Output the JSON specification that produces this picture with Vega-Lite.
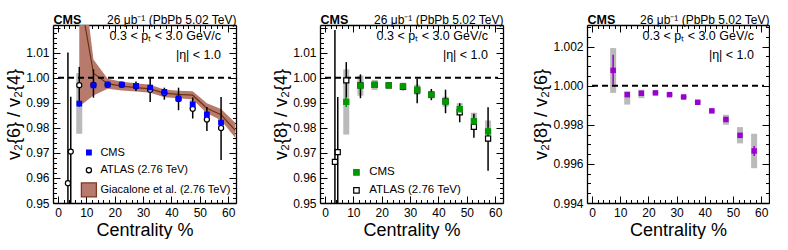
{
  "$schema": "https://vega.github.io/schema/vega-lite/v6.json",
  "padding": {"left": 5, "top": 13, "right": 0, "bottom": 0},
  "config": {
    "font": "Liberation Sans",
    "view": {"stroke": null},
    "axis": {"grid": false, "domainColor": "black", "tickColor": "black", "labelColor": "black", "titleColor": "black", "labelFont": "Liberation Sans", "titleFont": "Liberation Sans", "titleFontWeight": "normal", "labelFontSize": 12, "domainWidth": 1.3, "tickWidth": 1, "labelFlush": false},
    "title": {"anchor": "end", "frame": "group", "offset": -48, "dx": -15, "fontSize": 12.5, "fontWeight": "normal", "subtitleFontSize": 12.5, "subtitlePadding": 6, "color": "black", "subtitleColor": "black", "font": "Liberation Sans", "subtitleFont": "Liberation Sans"}
  },
  "datasets": {
    "p1": [
      {"series": "ATLAS (2.76 TeV)", "cent": 3.5, "val": 0.9579, "lo": 0.906, "hi": 1.0100},
      {"series": "ATLAS (2.76 TeV)", "cent": 4.5, "val": 0.9705, "lo": 0.9486, "hi": 0.9924},
      {"series": "ATLAS (2.76 TeV)", "cent": 7.5, "val": 0.9970, "lo": 0.9905, "hi": 1.0043},
      {"series": "ATLAS (2.76 TeV)", "cent": 12.5, "val": 0.9971, "lo": 0.9920, "hi": 1.0033},
      {"series": "ATLAS (2.76 TeV)", "cent": 17.5, "val": 0.9972, "lo": 0.9962, "hi": 0.9982},
      {"series": "ATLAS (2.76 TeV)", "cent": 22.5, "val": 0.9972, "lo": 0.9964, "hi": 0.9980},
      {"series": "ATLAS (2.76 TeV)", "cent": 27.5, "val": 0.9966, "lo": 0.9947, "hi": 0.9985},
      {"series": "ATLAS (2.76 TeV)", "cent": 32.5, "val": 0.9952, "lo": 0.9903, "hi": 0.9999},
      {"series": "ATLAS (2.76 TeV)", "cent": 37.5, "val": 0.9939, "lo": 0.9912, "hi": 0.9960},
      {"series": "ATLAS (2.76 TeV)", "cent": 42.5, "val": 0.9915, "lo": 0.9870, "hi": 0.9960},
      {"series": "ATLAS (2.76 TeV)", "cent": 47.5, "val": 0.9876, "lo": 0.9837, "hi": 0.9921},
      {"series": "ATLAS (2.76 TeV)", "cent": 52.5, "val": 0.9833, "lo": 0.9787, "hi": 0.9883},
      {"series": "ATLAS (2.76 TeV)", "cent": 57.5, "val": 0.9799, "lo": 0.9672, "hi": 0.9923},
      {"series": "CMS", "cent": 7.5, "val": 0.9896, "lo": 0.9884, "hi": 0.9908, "slo": 0.9776, "shi": 1.0018},
      {"series": "CMS", "cent": 12.5, "val": 0.9969, "lo": 0.9961, "hi": 0.9977, "slo": 0.9944, "shi": 0.9994},
      {"series": "CMS", "cent": 17.5, "val": 0.9972, "lo": 0.9967, "hi": 0.9977, "slo": 0.9962, "shi": 0.9982},
      {"series": "CMS", "cent": 22.5, "val": 0.9972, "lo": 0.9968, "hi": 0.9976, "slo": 0.9964, "shi": 0.9980},
      {"series": "CMS", "cent": 27.5, "val": 0.9967, "lo": 0.9962, "hi": 0.9972, "slo": 0.9957, "shi": 0.9977},
      {"series": "CMS", "cent": 32.5, "val": 0.9960, "lo": 0.9954, "hi": 0.9966, "slo": 0.9948, "shi": 0.9972},
      {"series": "CMS", "cent": 37.5, "val": 0.9943, "lo": 0.9937, "hi": 0.9949, "slo": 0.9931, "shi": 0.9955},
      {"series": "CMS", "cent": 42.5, "val": 0.9917, "lo": 0.9910, "hi": 0.9924, "slo": 0.9903, "shi": 0.9931},
      {"series": "CMS", "cent": 47.5, "val": 0.9893, "lo": 0.9885, "hi": 0.9901, "slo": 0.9875, "shi": 0.9911},
      {"series": "CMS", "cent": 52.5, "val": 0.9854, "lo": 0.9844, "hi": 0.9864, "slo": 0.9832, "shi": 0.9876},
      {"series": "CMS", "cent": 57.5, "val": 0.9821, "lo": 0.9809, "hi": 0.9833, "slo": 0.9791, "shi": 0.9851}
    ],
    "p1band": [
      {"cent": 7.5, "val": 1.034, "lo": 0.9885, "hi": 1.053},
      {"cent": 12.5, "val": 1.0018, "lo": 0.9929, "hi": 1.0072},
      {"cent": 17.5, "val": 0.9976, "lo": 0.9956, "hi": 0.9996},
      {"cent": 22.5, "val": 0.9966, "lo": 0.9949, "hi": 0.9984},
      {"cent": 27.5, "val": 0.9960, "lo": 0.9945, "hi": 0.9978},
      {"cent": 32.5, "val": 0.9955, "lo": 0.9940, "hi": 0.9972},
      {"cent": 37.5, "val": 0.9938, "lo": 0.9922, "hi": 0.9953},
      {"cent": 42.5, "val": 0.9933, "lo": 0.9918, "hi": 0.9948},
      {"cent": 47.5, "val": 0.9930, "lo": 0.9913, "hi": 0.9946},
      {"cent": 52.5, "val": 0.9878, "lo": 0.9858, "hi": 0.9898},
      {"cent": 57.5, "val": 0.9852, "lo": 0.9830, "hi": 0.9875},
      {"cent": 62.5, "val": 0.9790, "lo": 0.9760, "hi": 0.9820}
    ],
    "p2": [
      {"series": "ATLAS (2.76 TeV)", "cent": 3.5, "val": 0.9664, "lo": 0.913, "hi": 1.0190},
      {"series": "ATLAS (2.76 TeV)", "cent": 4.5, "val": 0.9703, "lo": 0.9480, "hi": 0.9923},
      {"series": "ATLAS (2.76 TeV)", "cent": 7.5, "val": 0.9989, "lo": 0.9903, "hi": 1.0062},
      {"series": "ATLAS (2.76 TeV)", "cent": 12.5, "val": 0.9969, "lo": 0.9918, "hi": 1.0013},
      {"series": "ATLAS (2.76 TeV)", "cent": 17.5, "val": 0.9971, "lo": 0.9962, "hi": 0.9980},
      {"series": "ATLAS (2.76 TeV)", "cent": 22.5, "val": 0.9969, "lo": 0.9962, "hi": 0.9976},
      {"series": "ATLAS (2.76 TeV)", "cent": 27.5, "val": 0.9963, "lo": 0.9950, "hi": 0.9977},
      {"series": "ATLAS (2.76 TeV)", "cent": 32.5, "val": 0.9949, "lo": 0.9898, "hi": 0.9996},
      {"series": "ATLAS (2.76 TeV)", "cent": 37.5, "val": 0.9932, "lo": 0.9910, "hi": 0.9955},
      {"series": "ATLAS (2.76 TeV)", "cent": 42.5, "val": 0.9905, "lo": 0.9858, "hi": 0.9952},
      {"series": "ATLAS (2.76 TeV)", "cent": 47.5, "val": 0.9862, "lo": 0.9822, "hi": 0.9898},
      {"series": "ATLAS (2.76 TeV)", "cent": 52.5, "val": 0.9804, "lo": 0.9760, "hi": 0.9856},
      {"series": "ATLAS (2.76 TeV)", "cent": 57.5, "val": 0.9757, "lo": 0.9629, "hi": 0.9882},
      {"series": "CMS", "cent": 7.5, "val": 0.9903, "lo": 0.9883, "hi": 0.9923, "slo": 0.9773, "shi": 1.0033},
      {"series": "CMS", "cent": 12.5, "val": 0.9968, "lo": 0.9962, "hi": 0.9974, "slo": 0.9928, "shi": 1.0008},
      {"series": "CMS", "cent": 17.5, "val": 0.9971, "lo": 0.9966, "hi": 0.9976, "slo": 0.9951, "shi": 0.9991},
      {"series": "CMS", "cent": 22.5, "val": 0.9969, "lo": 0.9965, "hi": 0.9973, "slo": 0.9959, "shi": 0.9979},
      {"series": "CMS", "cent": 27.5, "val": 0.9965, "lo": 0.9955, "hi": 0.9975, "slo": 0.9950, "shi": 0.9980},
      {"series": "CMS", "cent": 32.5, "val": 0.9952, "lo": 0.9946, "hi": 0.9958, "slo": 0.9932, "shi": 0.9972},
      {"series": "CMS", "cent": 37.5, "val": 0.9932, "lo": 0.9924, "hi": 0.9940, "slo": 0.9917, "shi": 0.9947},
      {"series": "CMS", "cent": 42.5, "val": 0.9904, "lo": 0.9896, "hi": 0.9912, "slo": 0.9884, "shi": 0.9924},
      {"series": "CMS", "cent": 47.5, "val": 0.9874, "lo": 0.9864, "hi": 0.9884, "slo": 0.9850, "shi": 0.9898},
      {"series": "CMS", "cent": 52.5, "val": 0.9826, "lo": 0.9814, "hi": 0.9838, "slo": 0.9792, "shi": 0.9860},
      {"series": "CMS", "cent": 57.5, "val": 0.9786, "lo": 0.9771, "hi": 0.9801, "slo": 0.9743, "shi": 0.9829}
    ],
    "p3": [
      {"cent": 7.5, "val": 1.00078, "lo": 1.00005, "hi": 1.00158, "slo": 0.99963, "shi": 1.00192},
      {"cent": 12.5, "val": 0.99954, "lo": 0.99951, "hi": 0.99957, "slo": 0.99903, "shi": 0.99971},
      {"cent": 17.5, "val": 0.99961, "lo": 0.99958, "hi": 0.99964, "slo": 0.99936, "shi": 0.99979},
      {"cent": 22.5, "val": 0.99963, "lo": 0.99961, "hi": 0.99965, "slo": 0.99957, "shi": 0.99969},
      {"cent": 27.5, "val": 0.99954, "lo": 0.99952, "hi": 0.99956, "slo": 0.99948, "shi": 0.99960},
      {"cent": 32.5, "val": 0.99942, "lo": 0.99940, "hi": 0.99944, "slo": 0.99936, "shi": 0.99948},
      {"cent": 37.5, "val": 0.99915, "lo": 0.99913, "hi": 0.99917, "slo": 0.99909, "shi": 0.99921},
      {"cent": 42.5, "val": 0.99871, "lo": 0.99869, "hi": 0.99873, "slo": 0.99864, "shi": 0.99878},
      {"cent": 47.5, "val": 0.99827, "lo": 0.99824, "hi": 0.99830, "slo": 0.99800, "shi": 0.99851},
      {"cent": 52.5, "val": 0.99746, "lo": 0.99742, "hi": 0.99750, "slo": 0.99705, "shi": 0.99788},
      {"cent": 57.5, "val": 0.99666, "lo": 0.99640, "hi": 0.99691, "slo": 0.99578, "shi": 0.99754}
    ]
  },
  "resolve": {"scale": {"fill": "independent", "stroke": "independent", "shape": "independent"}},
  "bounds": "flush",
  "spacing": 84,
  "hconcat": [
    {
      "width": 183, "height": 178,
      "title": {"text": "0.3 < pₜ < 3.0 GeV/c", "subtitle": "|η| < 1.0"},
      "resolve": {"axis": {"x": "independent", "y": "independent"}},
      "layer": [
        {
          "data": {"name": "p1"},
          "transform": [{"filter": "datum.series === 'CMS'"}],
          "mark": {"type": "bar", "color": "#b3b3b3", "size": 6, "opacity": 0.9},
          "encoding": {
            "x": {"field": "cent", "type": "quantitative", "scale": {"domain": [0, 61], "nice": false, "zero": false}, "axis": {"orient": "bottom", "values": [0, 10, 20, 30, 40, 50, 60], "ticks": false, "labelPadding": 4, "title": "Centrality %", "titleFontSize": 18, "titlePadding": 3}},
            "y": {"field": "slo", "type": "quantitative", "scale": {"domain": [0.95, 1.021], "nice": false, "zero": false}, "axis": {"orient": "left", "values": [0.95, 0.96, 0.97, 0.98, 0.99, 1.0, 1.01], "format": ".2f", "ticks": false, "labelPadding": 4, "title": "v₂{6} / v₂{4}", "titleFontSize": 18, "titlePadding": 2}},
            "y2": {"field": "shi"}
          }
        },
        {
          "data": {"name": "p1band"},
          "mark": {"type": "area", "color": "#b97a6e", "clip": true, "opacity": 1},
          "encoding": {
            "x": {"field": "cent", "type": "quantitative", "scale": {"domain": [0, 61], "nice": false, "zero": false}, "axis": {"orient": "bottom", "values": [0, 2, 4, 6, 8, 10, 12, 14, 16, 18, 20, 22, 24, 26, 28, 30, 32, 34, 36, 38, 40, 42, 44, 46, 48, 50, 52, 54, 56, 58, 60], "labels": false, "domain": false, "title": null, "tickSize": {"condition": {"test": "datum.value % 10 === 0", "value": -7}, "value": -3.5}}},
            "y": {"field": "lo", "type": "quantitative", "scale": {"domain": [0.95, 1.021], "nice": false, "zero": false}, "axis": {"orient": "left", "values": [0.95, 0.952, 0.954, 0.956, 0.958, 0.96, 0.962, 0.964, 0.966, 0.968, 0.97, 0.972, 0.974, 0.976, 0.978, 0.98, 0.982, 0.984, 0.986, 0.988, 0.99, 0.992, 0.994, 0.996, 0.998, 1, 1.002, 1.004, 1.006, 1.008, 1.01, 1.012, 1.014, 1.016, 1.018, 1.02], "labels": false, "domain": false, "title": null, "tickSize": {"condition": {"test": "abs(datum.value*100 - round(datum.value*100)) < 0.0001", "value": -7}, "value": -3.5}}},
            "y2": {"field": "hi"}
          }
        },
        {
          "data": {"name": "p1band"},
          "mark": {"type": "line", "color": "#6b3410", "strokeWidth": 1.2, "clip": true},
          "encoding": {
            "x": {"field": "cent", "type": "quantitative", "scale": {"domain": [0, 61], "nice": false, "zero": false}, "axis": {"orient": "top", "values": [0, 2, 4, 6, 8, 10, 12, 14, 16, 18, 20, 22, 24, 26, 28, 30, 32, 34, 36, 38, 40, 42, 44, 46, 48, 50, 52, 54, 56, 58, 60], "labels": false, "title": "26 μb⁻¹ (PbPb 5.02 TeV)", "titleFontSize": 12, "titleAnchor": "end", "titleBaseline": "alphabetic", "titlePadding": 1.5, "tickSize": {"condition": {"test": "datum.value % 10 === 0", "value": -7}, "value": -3.5}}},
            "y": {"field": "val", "type": "quantitative", "scale": {"domain": [0.95, 1.021], "nice": false, "zero": false}, "axis": {"orient": "right", "values": [0.95, 0.952, 0.954, 0.956, 0.958, 0.96, 0.962, 0.964, 0.966, 0.968, 0.97, 0.972, 0.974, 0.976, 0.978, 0.98, 0.982, 0.984, 0.986, 0.988, 0.99, 0.992, 0.994, 0.996, 0.998, 1, 1.002, 1.004, 1.006, 1.008, 1.01, 1.012, 1.014, 1.016, 1.018, 1.02], "labels": false, "title": null, "tickSize": {"condition": {"test": "abs(datum.value*100 - round(datum.value*100)) < 0.0001", "value": -7}, "value": -3.5}}}
          }
        },
        {
          "data": {"values": [{}]},
          "mark": {"type": "rule", "strokeDash": [6, 4], "strokeWidth": 2, "color": "black"},
          "encoding": {
            "x": {"datum": 0, "type": "quantitative", "scale": {"domain": [0, 61], "nice": false, "zero": false}, "axis": {"orient": "top", "ticks": false, "labels": false, "domain": false, "title": "CMS", "titleFontWeight": "bold", "titleFontSize": 12.5, "titleAnchor": "start", "titleBaseline": "alphabetic", "titlePadding": 1.5}},
            "x2": {"datum": 61},
            "y": {"datum": 1, "type": "quantitative", "scale": {"domain": [0.95, 1.021], "nice": false, "zero": false}, "axis": null}
          }
        },
        {
          "data": {"name": "p1"},
          "mark": {"type": "rule", "strokeWidth": 1.5, "clip": true},
          "encoding": {
            "x": {"field": "cent", "type": "quantitative", "scale": {"domain": [0, 61], "nice": false, "zero": false}, "axis": null},
            "y": {"field": "lo", "type": "quantitative", "scale": {"domain": [0.95, 1.021], "nice": false, "zero": false}, "axis": null},
            "y2": {"field": "hi"},
            "stroke": {"condition": {"test": "datum.series === 'CMS'", "value": "#0000ff"}, "value": "black"}
          }
        },
        {
          "data": {"name": "p1"},
          "mark": {"type": "point", "filled": true, "size": 225, "strokeWidth": 1.2, "opacity": 1},
          "encoding": {
            "x": {"field": "cent", "type": "quantitative", "scale": {"domain": [0, 61], "nice": false, "zero": false}, "axis": null},
            "y": {"field": "val", "type": "quantitative", "scale": {"domain": [0.95, 1.021], "nice": false, "zero": false}, "axis": null},
            "fill": {"field": "series", "type": "nominal", "scale": {"domain": ["CMS", "ATLAS (2.76 TeV)", "Giacalone et al. (2.76 TeV)"], "range": ["#0000ff", "#ffffff", "#b97a6e"]}, "legend": {"title": null, "orient": "none", "legendX": 27.4, "legendY": 119, "symbolSize": 225, "labelFontSize": 11, "labelFont": "Liberation Sans", "labelColor": "black", "rowPadding": 3.7, "labelOffset": 3, "padding": 0, "symbolStrokeWidth": 1.3}},
            "stroke": {"field": "series", "type": "nominal", "scale": {"domain": ["CMS", "ATLAS (2.76 TeV)", "Giacalone et al. (2.76 TeV)"], "range": ["#0000ff", "#000000", "#7a3a1e"]}, "legend": {"title": null, "orient": "none", "legendX": 27.4, "legendY": 119, "symbolSize": 225, "labelFontSize": 11, "labelFont": "Liberation Sans", "labelColor": "black", "rowPadding": 3.7, "labelOffset": 3, "padding": 0, "symbolStrokeWidth": 1.3}},
            "shape": {"field": "series", "type": "nominal", "scale": {"domain": ["CMS", "ATLAS (2.76 TeV)", "Giacalone et al. (2.76 TeV)"], "range": ["M-0.3,-0.3H0.3V0.3H-0.3Z", "M0.34,0A0.34,0.34,0,1,1,-0.34,0A0.34,0.34,0,1,1,0.34,0Z", "M-1,-0.93H1V0.93H-1Z"]}, "legend": {"title": null, "orient": "none", "legendX": 27.4, "legendY": 119, "symbolSize": 225, "labelFontSize": 11, "labelFont": "Liberation Sans", "labelColor": "black", "rowPadding": 3.7, "labelOffset": 3, "padding": 0, "symbolStrokeWidth": 1.3}}
          }
        }
      ]
    },
    {
      "width": 183, "height": 178,
      "title": {"text": "0.3 < pₜ < 3.0 GeV/c", "subtitle": "|η| < 1.0"},
      "resolve": {"axis": {"x": "independent", "y": "independent"}},
      "layer": [
        {
          "data": {"name": "p2"},
          "transform": [{"filter": "datum.series === 'CMS'"}],
          "mark": {"type": "bar", "color": "#b3b3b3", "size": 6, "opacity": 0.9},
          "encoding": {
            "x": {"field": "cent", "type": "quantitative", "scale": {"domain": [0, 61], "nice": false, "zero": false}, "axis": {"orient": "bottom", "values": [0, 10, 20, 30, 40, 50, 60], "ticks": false, "labelPadding": 4, "title": "Centrality %", "titleFontSize": 18, "titlePadding": 3}},
            "y": {"field": "slo", "type": "quantitative", "scale": {"domain": [0.95, 1.021], "nice": false, "zero": false}, "axis": {"orient": "left", "values": [0.95, 0.96, 0.97, 0.98, 0.99, 1.0, 1.01], "format": ".2f", "ticks": false, "labelPadding": 4, "title": "v₂{8} / v₂{4}", "titleFontSize": 18, "titlePadding": 2}},
            "y2": {"field": "shi"}
          }
        },
        {
          "data": {"name": "p2"},
          "mark": {"type": "rule", "strokeWidth": 1.5, "clip": true},
          "encoding": {
            "x": {"field": "cent", "type": "quantitative", "scale": {"domain": [0, 61], "nice": false, "zero": false}, "axis": {"orient": "bottom", "values": [0, 2, 4, 6, 8, 10, 12, 14, 16, 18, 20, 22, 24, 26, 28, 30, 32, 34, 36, 38, 40, 42, 44, 46, 48, 50, 52, 54, 56, 58, 60], "labels": false, "domain": false, "title": null, "tickSize": {"condition": {"test": "datum.value % 10 === 0", "value": -7}, "value": -3.5}}},
            "y": {"field": "lo", "type": "quantitative", "scale": {"domain": [0.95, 1.021], "nice": false, "zero": false}, "axis": {"orient": "left", "values": [0.95, 0.952, 0.954, 0.956, 0.958, 0.96, 0.962, 0.964, 0.966, 0.968, 0.97, 0.972, 0.974, 0.976, 0.978, 0.98, 0.982, 0.984, 0.986, 0.988, 0.99, 0.992, 0.994, 0.996, 0.998, 1, 1.002, 1.004, 1.006, 1.008, 1.01, 1.012, 1.014, 1.016, 1.018, 1.02], "labels": false, "domain": false, "title": null, "tickSize": {"condition": {"test": "abs(datum.value*100 - round(datum.value*100)) < 0.0001", "value": -7}, "value": -3.5}}},
            "y2": {"field": "hi"},
            "stroke": {"condition": {"test": "datum.series === 'CMS'", "value": "#009900"}, "value": "black"}
          }
        },
        {
          "data": {"values": [{}]},
          "mark": {"type": "rule", "strokeDash": [6, 4], "strokeWidth": 2, "color": "black"},
          "encoding": {
            "x": {"datum": 0, "type": "quantitative", "scale": {"domain": [0, 61], "nice": false, "zero": false}, "axis": {"orient": "top", "ticks": false, "labels": false, "domain": false, "title": "CMS", "titleFontWeight": "bold", "titleFontSize": 12.5, "titleAnchor": "start", "titleBaseline": "alphabetic", "titlePadding": 1.5}},
            "x2": {"datum": 61},
            "y": {"datum": 1, "type": "quantitative", "scale": {"domain": [0.95, 1.021], "nice": false, "zero": false}, "axis": null}
          }
        },
        {
          "data": {"name": "p2"},
          "mark": {"type": "point", "filled": true, "size": 26, "shape": "square", "strokeWidth": 1.2, "opacity": 1},
          "encoding": {
            "x": {"field": "cent", "type": "quantitative", "scale": {"domain": [0, 61], "nice": false, "zero": false}, "axis": {"orient": "top", "values": [0, 2, 4, 6, 8, 10, 12, 14, 16, 18, 20, 22, 24, 26, 28, 30, 32, 34, 36, 38, 40, 42, 44, 46, 48, 50, 52, 54, 56, 58, 60], "labels": false, "title": "26 μb⁻¹ (PbPb 5.02 TeV)", "titleFontSize": 12, "titleAnchor": "end", "titleBaseline": "alphabetic", "titlePadding": 1.5, "tickSize": {"condition": {"test": "datum.value % 10 === 0", "value": -7}, "value": -3.5}}},
            "y": {"field": "val", "type": "quantitative", "scale": {"domain": [0.95, 1.021], "nice": false, "zero": false}, "axis": {"orient": "right", "values": [0.95, 0.952, 0.954, 0.956, 0.958, 0.96, 0.962, 0.964, 0.966, 0.968, 0.97, 0.972, 0.974, 0.976, 0.978, 0.98, 0.982, 0.984, 0.986, 0.988, 0.99, 0.992, 0.994, 0.996, 0.998, 1, 1.002, 1.004, 1.006, 1.008, 1.01, 1.012, 1.014, 1.016, 1.018, 1.02], "labels": false, "title": null, "tickSize": {"condition": {"test": "abs(datum.value*100 - round(datum.value*100)) < 0.0001", "value": -7}, "value": -3.5}}},
            "fill": {"field": "series", "type": "nominal", "scale": {"domain": ["CMS", "ATLAS (2.76 TeV)"], "range": ["#009900", "#ffffff"]}, "legend": {"title": null, "orient": "none", "legendX": 30.7, "legendY": 141.7, "symbolSize": 30, "labelFontSize": 11.5, "labelFont": "Liberation Sans", "labelColor": "black", "rowPadding": 5, "labelOffset": 7, "padding": 0, "symbolStrokeWidth": 1.2}},
            "stroke": {"field": "series", "type": "nominal", "scale": {"domain": ["CMS", "ATLAS (2.76 TeV)"], "range": ["#009900", "#000000"]}, "legend": {"title": null, "orient": "none", "legendX": 30.7, "legendY": 141.7, "symbolSize": 30, "labelFontSize": 11.5, "labelFont": "Liberation Sans", "labelColor": "black", "rowPadding": 5, "labelOffset": 7, "padding": 0, "symbolStrokeWidth": 1.2}}
          }
        }
      ]
    },
    {
      "width": 182, "height": 178,
      "title": {"text": "0.3 < pₜ < 3.0 GeV/c", "subtitle": "|η| < 1.0"},
      "resolve": {"axis": {"x": "independent", "y": "independent"}},
      "layer": [
        {
          "data": {"name": "p3"},
          "mark": {"type": "bar", "color": "#b3b3b3", "size": 6, "opacity": 0.9},
          "encoding": {
            "x": {"field": "cent", "type": "quantitative", "scale": {"domain": [0, 61], "nice": false, "zero": false}, "axis": {"orient": "bottom", "values": [0, 10, 20, 30, 40, 50, 60], "ticks": false, "labelPadding": 4, "title": "Centrality %", "titleFontSize": 18, "titlePadding": 3}},
            "y": {"field": "slo", "type": "quantitative", "scale": {"domain": [0.994, 1.0031], "nice": false, "zero": false}, "axis": {"orient": "left", "values": [0.994, 0.996, 0.998, 1.0, 1.002], "format": ".3f", "ticks": false, "labelPadding": 4, "title": "v₂{8} / v₂{6}", "titleFontSize": 18, "titlePadding": 2}},
            "y2": {"field": "shi"}
          }
        },
        {
          "data": {"name": "p3"},
          "mark": {"type": "rule", "strokeWidth": 1.5, "color": "#9a00d0"},
          "encoding": {
            "x": {"field": "cent", "type": "quantitative", "scale": {"domain": [0, 61], "nice": false, "zero": false}, "axis": {"orient": "bottom", "values": [0, 2, 4, 6, 8, 10, 12, 14, 16, 18, 20, 22, 24, 26, 28, 30, 32, 34, 36, 38, 40, 42, 44, 46, 48, 50, 52, 54, 56, 58, 60], "labels": false, "domain": false, "title": null, "tickSize": {"condition": {"test": "datum.value % 10 === 0", "value": -7}, "value": -3.5}}},
            "y": {"field": "lo", "type": "quantitative", "scale": {"domain": [0.994, 1.0031], "nice": false, "zero": false}, "axis": {"orient": "left", "values": [0.994, 0.9945, 0.995, 0.9955, 0.996, 0.9965, 0.997, 0.9975, 0.998, 0.9985, 0.999, 0.9995, 1, 1.0005, 1.001, 1.0015, 1.002, 1.0025, 1.003], "labels": false, "domain": false, "title": null, "tickSize": {"condition": {"test": "abs(datum.value*500 - round(datum.value*500)) < 0.0001", "value": -7}, "value": -3.5}}},
            "y2": {"field": "hi"}
          }
        },
        {
          "data": {"values": [{}]},
          "mark": {"type": "rule", "strokeDash": [6, 4], "strokeWidth": 2, "color": "black"},
          "encoding": {
            "x": {"datum": 0, "type": "quantitative", "scale": {"domain": [0, 61], "nice": false, "zero": false}, "axis": {"orient": "top", "ticks": false, "labels": false, "domain": false, "title": "CMS", "titleFontWeight": "bold", "titleFontSize": 12.5, "titleAnchor": "start", "titleBaseline": "alphabetic", "titlePadding": 1.5}},
            "x2": {"datum": 61},
            "y": {"datum": 1, "type": "quantitative", "scale": {"domain": [0.994, 1.0031], "nice": false, "zero": false}, "axis": null}
          }
        },
        {
          "data": {"name": "p3"},
          "mark": {"type": "point", "filled": true, "shape": "square", "size": 30, "color": "#9a00d0", "opacity": 1},
          "encoding": {
            "x": {"field": "cent", "type": "quantitative", "scale": {"domain": [0, 61], "nice": false, "zero": false}, "axis": {"orient": "top", "values": [0, 2, 4, 6, 8, 10, 12, 14, 16, 18, 20, 22, 24, 26, 28, 30, 32, 34, 36, 38, 40, 42, 44, 46, 48, 50, 52, 54, 56, 58, 60], "labels": false, "title": "26 μb⁻¹ (PbPb 5.02 TeV)", "titleFontSize": 12, "titleAnchor": "end", "titleBaseline": "alphabetic", "titlePadding": 1.5, "tickSize": {"condition": {"test": "datum.value % 10 === 0", "value": -7}, "value": -3.5}}},
            "y": {"field": "val", "type": "quantitative", "scale": {"domain": [0.994, 1.0031], "nice": false, "zero": false}, "axis": {"orient": "right", "values": [0.994, 0.9945, 0.995, 0.9955, 0.996, 0.9965, 0.997, 0.9975, 0.998, 0.9985, 0.999, 0.9995, 1, 1.0005, 1.001, 1.0015, 1.002, 1.0025, 1.003], "labels": false, "title": null, "tickSize": {"condition": {"test": "abs(datum.value*500 - round(datum.value*500)) < 0.0001", "value": -7}, "value": -3.5}}}
          }
        }
      ]
    }
  ]
}
